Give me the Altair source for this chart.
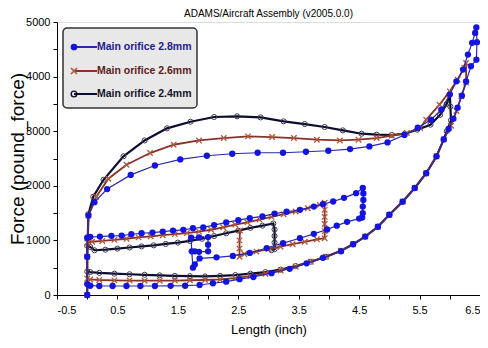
import altair as alt
import pandas as pd

# ---------------- data ----------------
series_names = ["Main orifice 2.8mm", "Main orifice 2.6mm", "Main orifice 2.4mm"]
chart_title = "ADAMS/Aircraft Assembly (v2005.0.0)"

blue_x = [0.00, 0.00, 0.02, 0.12, 0.33, 0.72, 1.12, 1.54, 1.98, 2.40, 2.82, 3.24, 3.62, 3.99, 4.35, 4.67,
          4.97, 5.25, 5.47, 5.69, 5.86, 6.00, 6.11, 6.22, 6.30, 6.37, 6.42, 6.44,
          6.45, 6.44, 6.35, 6.27, 6.20, 6.13, 6.06, 5.98, 5.90, 5.78, 5.61, 5.42, 5.22, 5.00, 4.81, 4.60,
          4.40, 4.20, 3.90, 3.63, 3.35, 3.05, 2.75, 2.52, 2.30, 2.08, 1.86, 1.62, 1.38, 1.12, 0.88, 0.65,
          0.42, 0.20, 0.05, 0.00, 0.00,
          0.05, 0.21, 0.40, 0.57, 0.73, 0.90, 1.08, 1.25, 1.42, 1.59, 1.75, 1.92, 2.10, 2.30, 2.50, 2.69,
          2.90, 3.10, 3.30, 3.52, 3.75, 3.90, 4.07, 4.25, 4.45, 4.56,
          4.57, 4.57, 4.56, 4.56, 4.55,
          4.50, 4.30, 4.13, 3.97, 3.75, 3.52, 3.24, 2.97, 2.69, 2.41, 2.14, 1.86,
          1.78, 1.75, 1.73, 1.72, 1.85, 2.00, 2.00, 2.00, 1.85, 1.78]
blue_y = [0, 700, 1455, 1700, 1940, 2200, 2372, 2483, 2550, 2587, 2605, 2605, 2624, 2642, 2673, 2722,
          2795, 2930, 3064, 3211, 3394, 3670, 3914, 4128, 4404, 4618, 4800, 4900,
          4630, 4310, 4190, 3910, 3650, 3430, 3230, 3040, 2850, 2540, 2230, 1960, 1710, 1470, 1250, 1070,
          930, 800, 680, 580, 480, 400, 330, 290, 244, 215, 183, 170, 168, 165, 165, 165,
          165, 165, 170, 200, 1050,
          1065, 1070, 1083, 1089, 1113, 1131, 1144, 1162, 1180, 1193, 1223, 1240, 1280, 1330, 1370, 1407,
          1440, 1490, 1525, 1560, 1620, 1665, 1712, 1780, 1865, 1960,
          1860, 1740, 1620, 1500, 1420,
          1400, 1340, 1270, 1200, 1120, 1040, 950, 860, 770, 716, 690, 670,
          560, 500, 800, 1050, 1055, 1060, 920, 800, 790, 800]

brown_x = [0.00, 0.00, 0.02, 0.15, 0.35, 0.65, 1.04, 1.43, 1.85, 2.26, 2.66, 3.06, 3.42, 3.80, 4.18, 4.49,
           4.79, 5.04, 5.29, 5.51, 5.61, 5.83, 6.00, 6.13, 6.24, 6.27,
           6.27, 6.19, 6.11, 6.02, 5.90, 5.78, 5.61, 5.42, 5.22, 5.00, 4.81, 4.60, 4.40, 4.20, 3.95, 3.70,
           3.45, 3.20, 2.95, 2.70, 2.45, 2.20, 1.95, 1.70, 1.45, 1.20, 0.95, 0.70, 0.45, 0.20, 0.05, 0.00, 0.00,
           0.08, 0.25, 0.45, 0.65, 0.85, 1.05, 1.25, 1.45, 1.65, 1.85, 2.05, 2.25, 2.45, 2.65, 2.85, 3.05,
           3.25, 3.45, 3.65, 3.85, 3.93,
           3.93, 3.93, 3.93, 3.93, 3.93,
           3.80, 3.60, 3.40, 3.20, 3.00, 2.80, 2.60, 2.52, 2.52, 2.52, 2.53]
brown_y = [0, 700, 1455, 1800, 2130, 2385, 2600, 2752, 2831, 2875, 2905, 2893, 2875, 2844, 2831, 2844,
           2875, 2917, 2967, 3058, 3211, 3486, 3730, 3945, 4160, 4250,
           3890, 3640, 3370, 3100, 2850, 2540, 2230, 1960, 1710, 1470, 1250, 1070, 930, 810, 700, 610,
           520, 450, 390, 345, 310, 285, 275, 270, 265, 262, 262, 265, 268, 275, 285, 300, 960,
           975, 990, 1010, 1030, 1055, 1075, 1095, 1115, 1135, 1160, 1195, 1240, 1290, 1330, 1380, 1430,
           1480, 1530, 1590, 1650, 1690,
           1560, 1430, 1300, 1170, 1040,
           1020, 975, 930, 885, 840, 795, 750, 700, 850, 1000, 1180]

black_x = [0.00, 0.00, 0.02, 0.10, 0.27, 0.60, 0.95, 1.32, 1.71, 2.10, 2.48, 2.87, 3.25, 3.60, 3.93, 4.23,
           4.54, 4.79, 5.04, 5.25, 5.46, 5.68, 5.84, 5.95, 6.00,
           6.01, 6.02, 5.95, 5.90, 5.78, 5.61, 5.42, 5.22, 5.00, 4.81, 4.60, 4.40, 4.20, 3.95, 3.70, 3.45,
           3.20, 2.95, 2.70, 2.45, 2.20, 1.95, 1.70, 1.45, 1.20, 0.95, 0.70, 0.45, 0.20, 0.05, 0.00, 0.00,
           0.05, 0.12, 0.30, 0.50, 0.70, 0.90, 1.10, 1.30, 1.50, 1.70, 1.90, 2.10, 2.30, 2.50, 2.70, 2.90, 3.08,
           3.10, 3.10, 3.10, 3.10, 3.05]
black_y = [0, 700, 1480, 1800, 2110, 2540, 2831, 3052, 3174, 3260, 3272, 3253, 3180, 3131, 3077, 3015,
           2954, 2936, 2930, 2950, 3028, 3119, 3300, 3500, 3680,
           3450, 3200, 3000, 2850, 2540, 2230, 1960, 1710, 1470, 1250, 1070, 930, 810, 700, 610, 530,
           465, 420, 390, 365, 350, 340, 345, 350, 360, 370, 380, 390, 405, 420, 430, 900,
           880, 820, 830, 850, 870, 890, 910, 935, 960, 990, 1030, 1080, 1130, 1180, 1230, 1270, 1310,
           1200, 1080, 960, 840, 820]

x_ticks = [-0.5, 0.0, 0.5, 1.0, 1.5, 2.0, 2.5, 3.0, 3.5, 4.0, 4.5, 5.0, 5.5, 6.0, 6.5]
y_ticks = [0, 500, 1000, 1500, 2000, 2500, 3000, 3500, 4000, 4500, 5000]

# ---------------- styling ----------------
SANS = "Liberation Sans, Arial, Helvetica, sans-serif"
BLUE_LINE, BLUE_PT = "#2a2aa8", "#1414e0"
BROWN_LINE, BROWN_PT = "#8a3228", "#b0583c"
BLACK_LINE, BLACK_PT = "#0c0c30", "#3a3a4a"
X_SHAPE = "M-1,-1L1,1M-1,1L1,-1"


def frame(xs, ys):
    return pd.DataFrame({"x": xs, "y": ys, "i": list(range(len(xs)))})


xsc = alt.Scale(domain=[-0.5, 6.5], nice=False, zero=False)
ysc = alt.Scale(domain=[0, 5000], nice=False)

x_axis = alt.Axis(values=x_ticks, grid=False, title="Length (inch)",
                  labelExpr="round(abs(datum.value*2)) % 2 == 1 ? "
                            "((datum.value < 0 ? '-' : '') + format(abs(datum.value), '.1f')) : ''",
                  labelFont=SANS, labelFontSize=11, labelColor="#000", labelPadding=5,
                  tickSize=4, tickColor="#000", domainColor="#000",
                  titleFont=SANS, titleFontSize=13, titleFontWeight="normal", titleColor="#000",
                  titlePadding=8)
y_axis = alt.Axis(values=y_ticks, grid=False, title="Force (pound_force)",
                  labelExpr="datum.value % 1000 == 0 ? '' + datum.value : ''",
                  labelFont=SANS, labelFontSize=11, labelColor="#000", labelPadding=3,
                  tickSize=4, tickColor="#000", domainColor="#000",
                  titleFont=SANS, titleFontSize=19,
                  titleFontWeight="normal", titleColor="#000", titleX=-40, titleBaseline="middle")

X = alt.X("x:Q", scale=xsc, axis=x_axis)
Y = alt.Y("y:Q", scale=ysc, axis=y_axis)


def series_layers(df, line_color, width, pt_props):
    line = alt.Chart(df).mark_line(color=line_color, strokeWidth=width).encode(x=X, y=Y, order="i:Q")
    pts = alt.Chart(df).mark_point(**pt_props).encode(x=X, y=Y)
    return [line, pts]


layers = []
layers += series_layers(frame(black_x, black_y), BLACK_LINE, 2.2,
                        dict(shape="circle", filled=False, color=BLACK_PT, size=26, strokeWidth=1, opacity=1))
layers += series_layers(frame(brown_x, brown_y), BROWN_LINE, 1.8,
                        dict(shape=X_SHAPE, filled=False, color=BROWN_PT, size=30, strokeWidth=1.3, opacity=1))
layers += series_layers(frame(blue_x, blue_y), BLUE_LINE, 1.2,
                        dict(shape="circle", filled=True, color=BLUE_PT, size=40, opacity=1))

# ---------------- title and legend (drawn by hand) ----------------
one = pd.DataFrame({"k": [0]})
layers.append(alt.Chart(pd.DataFrame({"t": [chart_title]}))
              .mark_text(align="center", baseline="top", font=SANS, fontSize=10, color="#000")
              .encode(x=alt.value(211.5), y=alt.value(-13), text="t:N"))
layers.append(alt.Chart(one).mark_rect(fill="#e8e8e8", stroke="#333", strokeWidth=1.5, cornerRadius=4)
              .encode(x=alt.value(6), x2=alt.value(140), y=alt.value(6), y2=alt.value(86)))
legend_rows = [25, 49, 72]
legend_line = [BLUE_LINE, BROWN_LINE, BLACK_LINE]
legend_text = ["#1c1c8c", "#5a1c1c", "#15152a"]
legend_pts = [dict(shape="circle", filled=True, color=BLUE_PT, size=45),
              dict(shape=X_SHAPE, filled=False, color=BROWN_PT, size=36, strokeWidth=1.6),
              dict(shape="circle", filled=False, color=BLACK_LINE, size=32, strokeWidth=1.4)]
for k in range(3):
    ly = legend_rows[k]
    layers.append(alt.Chart(one).mark_rule(color=legend_line[k], strokeWidth=2)
                  .encode(x=alt.value(17), x2=alt.value(40), y=alt.value(ly)))
    layers.append(alt.Chart(one).mark_point(opacity=1, **legend_pts[k])
                  .encode(x=alt.value(17), y=alt.value(ly)))
    layers.append(alt.Chart(pd.DataFrame({"t": [series_names[k]]}))
                  .mark_text(align="left", baseline="middle", font=SANS, fontSize=10.5,
                             fontWeight="bold", color=legend_text[k])
                  .encode(x=alt.value(40), y=alt.value(ly), text="t:N"))

chart = alt.layer(*layers).properties(
    width=423, height=273,
    autosize=alt.AutoSizeParams(type="none"),
    padding={"left": 49, "top": 14, "right": 0, "bottom": 45},
).configure_view(stroke="#444", strokeWidth=1.2).configure(background="white")

chart.save("out.html", embed_options={"renderer": "svg", "actions": False})
